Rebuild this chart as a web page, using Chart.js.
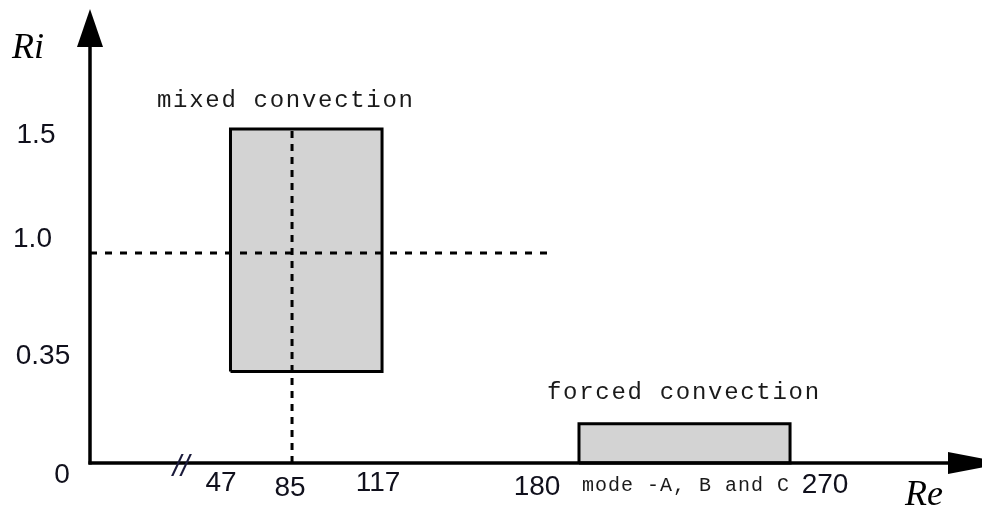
<!DOCTYPE html>
<html><head><meta charset="utf-8">
<script src="https://cdn.jsdelivr.net/npm/chart.js@4.4.1/dist/chart.umd.min.js"></script>
<style>html,body{margin:0;padding:0;background:#fff;overflow:hidden}canvas{display:block}</style>
</head><body>
<canvas id="c" width="982" height="508"></canvas>
<script>
// ---------------- data ----------------
const reTicks = [47, 85, 117, 180, 270];
const riTicks = [0, 0.35, 1.0, 1.5];
const mixedRe = [47, 117];
const mixedRi = [0.35, 1.5];
const forcedRe = [180, 270];
const forcedRi = [0, 0.15];
const refRe = 85;            // vertical dashed reference line
const refReSpanRi = [0, 1.5];
const refRi = 1.0;           // horizontal dashed reference line
const refRiSpanRe = [0, 170];
const regionLabels = ['mixed convection', 'forced convection'];
const modeLabel = 'mode -A, B and C';
const axisTitles = ['Re', 'Ri'];

// ------------- schematic (non-linear) axis scale -------------
class PiecewiseScale extends Chart.LinearScale {
  _knots() { return [this.options.knotValues, this.options.knotFractions]; }
  getPixelForValue(value) {
    const [v, f] = this._knots();
    let dec;
    if (value <= v[0]) dec = f[0] + (value - v[0]) * (f[1] - f[0]) / (v[1] - v[0]);
    else {
      let i = 0;
      while (i < v.length - 2 && value > v[i + 1]) i++;
      dec = f[i] + (value - v[i]) * (f[i + 1] - f[i]) / (v[i + 1] - v[i]);
    }
    return this.getPixelForDecimal(dec);
  }
  getValueForPixel(pixel) {
    const [v, f] = this._knots();
    const dec = this.getDecimalForPixel(pixel);
    let i = 0;
    while (i < f.length - 2 && dec > f[i + 1]) i++;
    return v[i] + (dec - f[i]) * (v[i + 1] - v[i]) / (f[i + 1] - f[i]);
  }
}
PiecewiseScale.id = 'piecewise';
PiecewiseScale.defaults = Chart.LinearScale.defaults;
Chart.register(PiecewiseScale);

const GREY = '#d3d3d3';
const pts = (xs, ys) => xs.map((x, i) => ({x, y: ys[i]}));
const rectOutline = (re, ri) => pts([re[0], re[0], re[1], re[1], re[0]], [ri[0], ri[1], ri[1], ri[0], ri[0]]);

const datasets = [
  {label: 'mixed fill', data: pts(mixedRe, [mixedRi[1], mixedRi[1]]), fill: {value: mixedRi[0]},
   backgroundColor: GREY, borderWidth: 0, order: 3},
  {label: 'forced fill', data: pts(forcedRe, [forcedRi[1], forcedRi[1]]), fill: {value: forcedRi[0]},
   backgroundColor: GREY, borderWidth: 0, order: 3},
  {label: 'Re ref', data: pts([refRe, refRe], refReSpanRi), borderColor: '#000', borderWidth: 3,
   borderDash: [7, 6], fill: false, order: 2},
  {label: 'Ri ref', data: pts(refRiSpanRe, [refRi, refRi]), borderColor: '#000', borderWidth: 3,
   borderDash: [7, 8], fill: false, order: 2},
  {label: 'mixed convection', data: rectOutline(mixedRe, mixedRi), borderColor: '#000', borderWidth: 3,
   fill: false, order: 1},
  {label: 'forced convection', data: rectOutline(forcedRe, forcedRi), borderColor: '#000', borderWidth: 3,
   fill: false, order: 1}
];
datasets.forEach(d => { d.pointRadius = 0; d.tension = 0; d.clip = false; d.borderJoinStyle = 'miter'; });

// label placement nudges (style only)
const xLabelNudge = [[-9.5, 20], [-2, 25], [-4, 20], [-42, 24], [35, 22]];
const yLabelPlace = [[62, 12], [43, -15.5], [32.5, -14], [36, 6]];

const decor = {
  id: 'decor',
  afterDraw(chart) {
    const {ctx, scales: {x, y}} = chart;
    const x0 = x.getPixelForValue(0), y0 = y.getPixelForValue(0);
    ctx.save();
    ctx.fillStyle = '#000'; ctx.strokeStyle = '#000'; ctx.lineWidth = 3.5;
    // y axis with arrow
    ctx.beginPath(); ctx.moveTo(x0, y0 + 1.5); ctx.lineTo(x0, 44); ctx.stroke();
    ctx.beginPath(); ctx.moveTo(x0, 9); ctx.lineTo(x0 - 13, 47); ctx.lineTo(x0 + 13, 47); ctx.closePath(); ctx.fill();
    // x axis with arrow
    ctx.beginPath(); ctx.moveTo(x0 - 1.5, y0); ctx.lineTo(952, y0); ctx.stroke();
    ctx.beginPath(); ctx.moveTo(1005, y0); ctx.lineTo(948, y0 - 11); ctx.lineTo(948, y0 + 11); ctx.closePath(); ctx.fill();

    // tick labels
    ctx.fillStyle = '#10101c';
    ctx.font = '28px "Liberation Sans", Arial, sans-serif';
    ctx.textAlign = 'center'; ctx.textBaseline = 'middle';
    reTicks.forEach((v, i) => {
      ctx.fillText(String(v), x.getPixelForValue(v) + xLabelNudge[i][0], y0 + xLabelNudge[i][1]);
    });
    riTicks.forEach((v, i) => {
      const t = v === 0 ? '0' : (v === 1 || v === 1.5 ? v.toFixed(1) : String(v));
      ctx.fillText(t, yLabelPlace[i][0], y.getPixelForValue(v) + yLabelPlace[i][1]);
    });
    // axis break mark
    ctx.fillStyle = '#1a1a3a';
    ctx.font = 'italic 30px "Liberation Sans", Arial, sans-serif';
    ctx.fillText('//', 181, 468);

    // axis titles
    ctx.textAlign = 'left'; ctx.textBaseline = 'alphabetic';
    ctx.fillStyle = '#000';
    ctx.font = 'italic 36px "Liberation Serif", "Times New Roman", serif';
    ctx.fillText(axisTitles[1], 12, 58);
    ctx.fillText(axisTitles[0], 905, 505);

    // region labels
    ctx.fillStyle = '#1a1a1a';
    ctx.font = '24px "Liberation Mono", "Courier New", monospace';
    ctx.letterSpacing = '1.7px';
    ctx.fillText(regionLabels[0], 157, 107);
    ctx.fillText(regionLabels[1], 547, 399);
    ctx.font = '20px "Liberation Mono", "Courier New", monospace';
    ctx.letterSpacing = '1px';
    ctx.fillText(modeLabel, 582, 491);
    ctx.letterSpacing = '0px';
    ctx.restore();
  }
};

new Chart(document.getElementById('c'), {
  type: 'line',
  data: {datasets},
  options: {
    responsive: false,
    animation: false,
    devicePixelRatio: 1,
    layout: {padding: {left: 90, right: 0, top: 0, bottom: 45}},
    plugins: {legend: {display: false}, tooltip: {enabled: false}},
    scales: {
      x: {type: 'piecewise', min: 0, max: 340, display: false,
          knotValues: [0, 47, 85, 117, 180, 270, 340],
          knotFractions: [0, 0.1575, 0.2265, 0.3274, 0.5482, 0.7848, 1]},
      y: {type: 'piecewise', min: 0, max: 2.2, display: false,
          knotValues: [0, 0.35, 1.0, 1.5, 2.2],
          knotFractions: [0, 0.1976, 0.4536, 0.7214, 1]}
    }
  },
  plugins: [decor]
});
</script>
</body></html>
